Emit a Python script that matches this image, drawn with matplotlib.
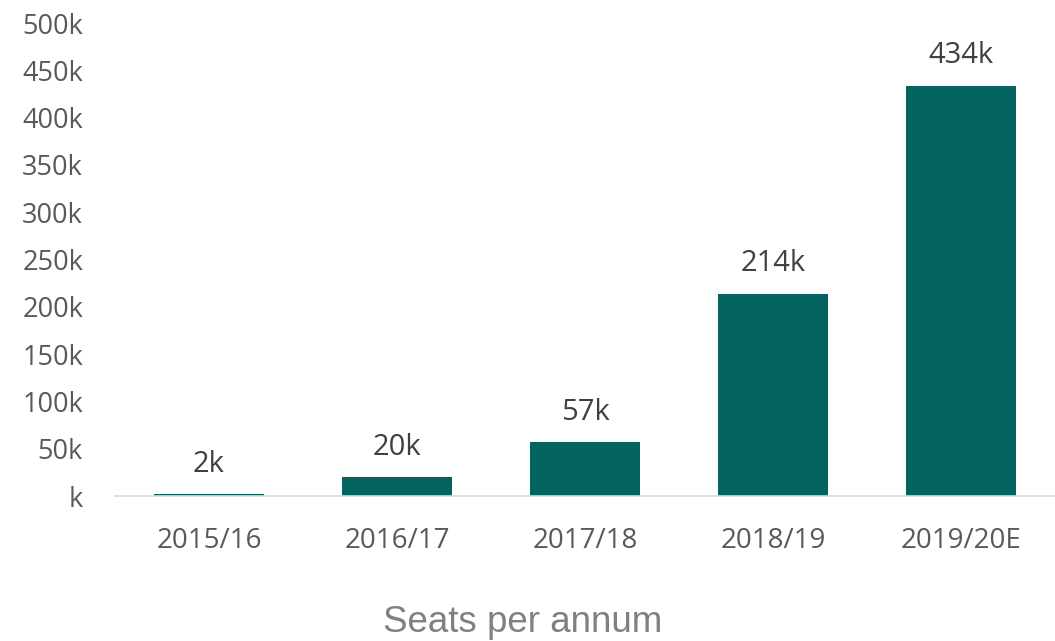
import matplotlib
matplotlib.use("Agg")
import matplotlib.pyplot as plt
from matplotlib.ticker import FuncFormatter, MultipleLocator

# seats per annum, thousands
years = ["2015/16", "2016/17", "2017/18", "2018/19", "2019/20E"]
seats_k = [2, 20, 57, 214, 434]
labels = ["2k", "20k", "57k", "214k", "434k"]

BAR_COLOR = "#03645f"
TICK_COLOR = "#595959"
LABEL_COLOR = "#404040"

plt.rcParams["font.family"] = ["Open Sans", "DejaVu Sans"]

fig = plt.figure(figsize=(10.55, 6.41), dpi=100)
ax = fig.add_axes([0.109, 0.226, 0.891, 0.738])

x = range(len(years))
bars = ax.bar(x, seats_k, width=0.59, color=BAR_COLOR)

for b, lab in zip(bars, labels):
    ax.annotate(lab, (b.get_x() + b.get_width() / 2, b.get_height()),
                xytext=(0, 11), textcoords="offset points",
                ha="center", va="bottom", fontsize=21, color=LABEL_COLOR)

ax.set_xlim(-0.5, 4.5)
ax.set_ylim(0, 500)
ax.yaxis.set_major_locator(MultipleLocator(50))
ax.yaxis.set_major_formatter(FuncFormatter(lambda v, p: f"{v:.0f}k" if v else "k"))
ax.set_xticks(list(x))
ax.set_xticklabels(years)

ax.tick_params(axis="y", length=0, pad=23, labelsize=19.5, labelcolor=TICK_COLOR)
ax.tick_params(axis="x", length=0, pad=22, labelsize=20, labelcolor=TICK_COLOR)

for side in ["top", "right", "left"]:
    ax.spines[side].set_visible(False)
ax.spines["bottom"].set_color("#d9d9d9")
ax.spines["bottom"].set_linewidth(1.2)

fig.text(0.495, 0.001, "Seats per annum", ha="center", va="bottom",
         fontsize=26.5, color="#808080", family=["Liberation Sans", "DejaVu Sans"])

fig.savefig("out.png", dpi=100, facecolor="white")
